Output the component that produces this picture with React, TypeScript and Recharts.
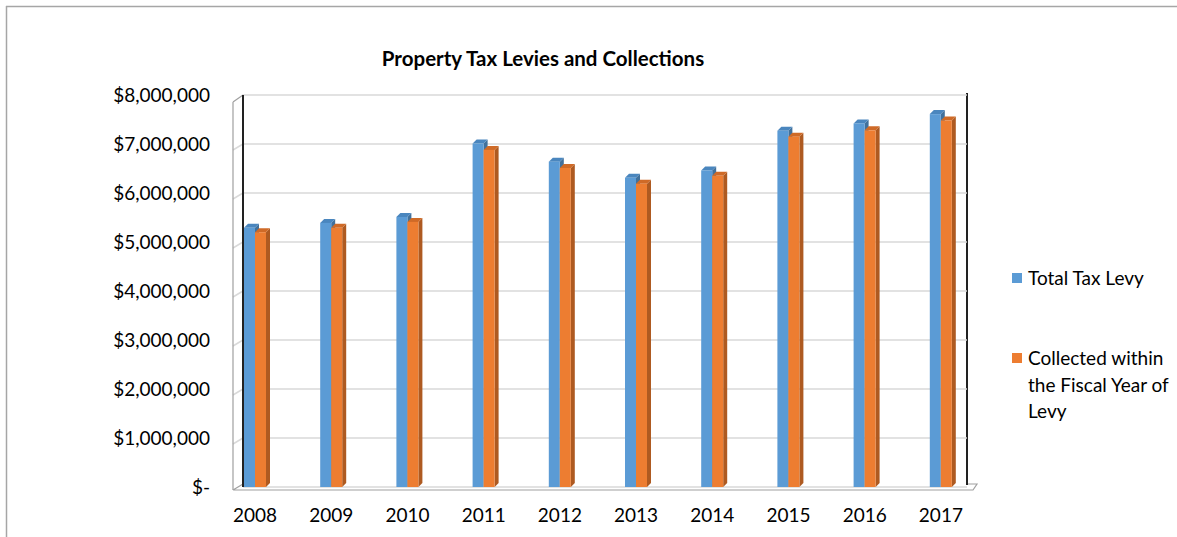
import React from 'react';
import { BarChart, Bar, XAxis, YAxis, CartesianGrid } from 'recharts';

document.body.style.margin = '0';

const years = ['2008', '2009', '2010', '2011', '2012', '2013', '2014', '2015', '2016', '2017'];
const totalTaxLevy = [5290000, 5390000, 5510000, 7010000, 6640000, 6310000, 6460000, 7270000, 7420000, 7610000];
const collectedInYear = [5200000, 5290000, 5410000, 6880000, 6510000, 6190000, 6350000, 7150000, 7280000, 7480000];
const yTicks = [0, 1000000, 2000000, 3000000, 4000000, 5000000, 6000000, 7000000, 8000000];
const seriesNames = ['Total Tax Levy', 'Collected within the Fiscal Year of Levy'];

const data = years.map((year, i) => ({
  year,
  levy: totalTaxLevy[i],
  collected: collectedInYear[i],
}));

const W = 1177;
const H = 537;
const PLOT = { left: 243, right: 967, top: 95, bottom: 487 };
const FONT = 'Lato, "Open Sans", sans-serif';

const SERIES = [
  { key: 'levy', name: seriesNames[0], fill: '#5b9bd5', top: '#4a86be', side: '#41719c' },
  { key: 'collected', name: seriesNames[1], fill: '#ed7d31', top: '#cf6a27', side: '#ae5a21' },
];

const formatMoney = (v: number) => (v === 0 ? '$-' : '$' + v.toLocaleString('en-US'));

// column with a fake 3d top and right side
const Bar3D = (props: any) => {
  const { x, y, width, height, fill, top, side } = props;
  if (!height) return null;
  const d = 4;
  return (
    <g>
      <polygon
        points={`${x + width},${y} ${x + width + d},${y - d} ${x + width + d},${y + height - d} ${x + width},${y + height}`}
        fill={side}
      />
      <polygon
        points={`${x},${y} ${x + d},${y - d} ${x + width + d},${y - d} ${x + width},${y}`}
        fill={top}
      />
      <rect x={x} y={y} width={width} height={height} fill={fill} />
    </g>
  );
};

// side wall, floor, right wall edge and outer border behind the chart
const Frame = () => {
  const sideX = PLOT.left - 10;
  const yMax = yTicks[yTicks.length - 1];
  const yPos = (v: number) => PLOT.bottom - (v / yMax) * (PLOT.bottom - PLOT.top);
  return (
    <svg width={W} height={H} style={{ position: 'absolute', left: 0, top: 0 }}>
      <path d={`M6 6.5 H${W} M6.5 6 V${H}`} stroke="#a6a6a6" strokeWidth={1.5} fill="none" />
      {yTicks.slice(1, -1).map((v) => (
        <line key={v} x1={sideX} y1={yPos(v) + 6} x2={PLOT.left} y2={yPos(v)} stroke="#d9d9d9" strokeWidth={1.5} />
      ))}
      <path
        d={`M${sideX} ${PLOT.top + 7} L${PLOT.left} ${PLOT.top} M${sideX} ${PLOT.top + 7} V${PLOT.bottom + 3}`}
        stroke="#a0a0a0"
        strokeWidth={1.2}
        fill="none"
      />
      <path
        d={`M${sideX} ${PLOT.bottom + 3} L${PLOT.left} ${PLOT.bottom - 3} M${sideX} ${PLOT.bottom + 3} H${PLOT.right + 6} L${PLOT.right + 10} ${PLOT.bottom - 3} H${PLOT.right}`}
        stroke="#a0a0a0"
        strokeWidth={1.2}
        fill="none"
      />
      <line x1={PLOT.right} y1={PLOT.top - 2} x2={PLOT.right} y2={PLOT.bottom - 2} stroke="#222" strokeWidth={2} />
    </svg>
  );
};

const LegendBox = () => (
  <>
    {SERIES.map((s, i) => (
      <div
        key={s.key}
        style={{
          position: 'absolute',
          left: 1012,
          top: i === 0 ? 265 : 345,
          display: 'flex',
          alignItems: 'flex-start',
          fontFamily: FONT,
          fontSize: 19,
          lineHeight: '26.5px',
          color: '#000',
        }}
      >
        <span style={{ width: 10, height: 10, marginTop: 8, background: s.fill, flex: 'none' }} />
        <span style={{ marginLeft: 6, width: 162 }}>{s.name}</span>
      </div>
    ))}
  </>
);

export default function App() {
  return (
    <div style={{ position: 'relative', width: W, height: H, background: '#fff', overflow: 'hidden' }}>
      <Frame />
      <div
        style={{
          position: 'absolute',
          left: 543,
          top: 46,
          transform: 'translateX(-50%)',
          whiteSpace: 'nowrap',
          fontFamily: FONT,
          fontWeight: 700,
          fontSize: 20.5,
          color: '#000',
        }}
      >
        Property Tax Levies and Collections
      </div>
      <div style={{ position: 'absolute', left: 0, top: 0 }}>
        <BarChart
          width={W}
          height={H}
          data={data}
          margin={{ top: PLOT.top, right: W - PLOT.right, bottom: 0, left: 0 }}
          barSize={11}
          barGap={0}
        >
          <CartesianGrid vertical={false} stroke="#d9d9d9" strokeWidth={1.5} />
          <XAxis
            dataKey="year"
            height={H - PLOT.bottom}
            padding={{ left: -26, right: -12 }}
            tickLine={false}
            axisLine={false}
            tickMargin={16}
            tick={{ fontFamily: FONT, fontSize: 19, fill: '#000' }}
          />
          <YAxis
            width={PLOT.left}
            domain={[0, 8000000]}
            ticks={yTicks}
            tickFormatter={formatMoney}
            tickLine={false}
            axisLine={{ stroke: '#222', strokeWidth: 2 }}
            tickMargin={27}
            tick={{ fontFamily: FONT, fontSize: 19, fill: '#000' }}
          />
          {SERIES.map((s) => (
            <Bar
              key={s.key}
              dataKey={s.key}
              name={s.name}
              fill={s.fill}
              isAnimationActive={false}
              shape={(p: any) => <Bar3D {...p} top={s.top} side={s.side} />}
            />
          ))}
        </BarChart>
      </div>
      <LegendBox />
    </div>
  );
}
